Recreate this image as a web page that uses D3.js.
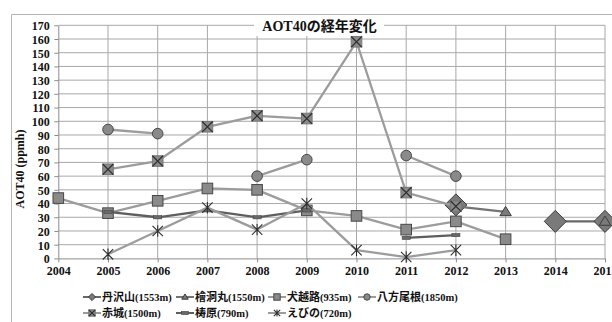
<!DOCTYPE html>
<html>
<head>
<meta charset="utf-8">
<script src="https://cdn.jsdelivr.net/npm/d3@7"></script>
<style>
  html, body { margin: 0; padding: 0; background: #fff; }
  svg { display: block; }
</style>
</head>
<body>
<svg id="chart" width="612" height="322"></svg>
<script>
// AOT40 yearly values (ppmh) per monitoring site; null = no measurement
const years = [2004, 2005, 2006, 2007, 2008, 2009, 2010, 2011, 2012, 2013, 2014, 2015];
const yTicks = [0, 10, 20, 30, 40, 50, 60, 70, 80, 90, 100, 110, 120, 130, 140, 150, 160, 170];
const chartTitle = "AOT40の経年変化";
const yTitle = "AOT40 (ppmh)";

const tanzawa  = [null, null, null, null, null, null, null, null, 39, null, 27, 27];
const hinokibo = [null, null, null, null, null, null, null, null, 38, 34, null, 27];
const inukoshi = [44, 33, 42, 51, 50, 35, 31, 21, 27, 14, null, null];
const happo    = [null, 94, 91, null, 60, 72, null, 75, 60, null, null, null];
const akagi    = [null, 65, 71, 96, 104, 102, 158, 48, 38, null, null, null];
const yusuhara = [null, 34, 30, 35, 30, 35, null, 15, 17, null, null, null];
const ebino    = [null, 3, 20, 37, 21, 40, 6, 1, 6, null, null, null];

const seriesNames = ["丹沢山", "檜洞丸", "犬越路", "八方尾根", "赤城", "梼原", "えびの"];
const seriesAlt   = ["(1553m)", "(1550m)", "(935m)", "(1850m)", "(1500m)", "(790m)", "(720m)"];
const seriesData  = [tanzawa, hinokibo, inukoshi, happo, akagi, yusuhara, ebino];
const seriesMark  = ["diamond", "triangle", "square", "circle", "xsquare", "dash", "star"];
const seriesLine  = ["#686868", "#747474", "#9c9c9c", "#9c9c9c", "#9c9c9c", "#5e5e5e", "#9c9c9c"];

const serif = "'Liberation Serif', 'DejaVu Serif', serif";
const gothic = "'Noto Sans CJK JP', 'Noto Sans', sans-serif";

const svg = d3.select("#chart");

const x = d3.scaleLinear().domain([2004, 2015]).range([58.3, 605]);
const y = d3.scaleLinear().domain([0, 170]).range([258.4, 25.3]);

// outer chart frame (continues past the right and bottom edges)
svg.append("path")
  .attr("d", "M11.5,330 V14.5 H620")
  .attr("fill", "none").attr("stroke", "#b4b4b4").attr("stroke-width", 1);

// gridlines
const grid = svg.append("g");
grid.selectAll("line.h").data(yTicks.slice(1)).join("line")
  .attr("class", "h")
  .attr("x1", x(2004)).attr("x2", x(2015))
  .attr("y1", d => y(d)).attr("y2", d => y(d))
  .attr("stroke", "#a8a8a8").attr("stroke-width", 1);
grid.selectAll("line.v").data(years.slice(1)).join("line")
  .attr("class", "v")
  .attr("x1", d => x(d)).attr("x2", d => x(d))
  .attr("y1", y(170)).attr("y2", y(0))
  .attr("stroke", "#a8a8a8").attr("stroke-width", 1);

// axes
const yAxis = d3.axisLeft(y).tickValues(yTicks).tickSize(4).tickSizeOuter(0);
const gy = svg.append("g").attr("transform", `translate(${x(2004)},0)`).call(yAxis);
gy.select(".domain").attr("stroke", "#8c8c8c");
gy.selectAll(".tick line").attr("stroke", "#8c8c8c");
gy.selectAll(".tick text")
  .attr("x", -8.5).attr("dy", "0.36em")
  .attr("font-family", serif).attr("font-weight", "bold").attr("font-size", 12).attr("fill", "#111");

const xAxis = d3.axisBottom(x).tickValues(years).tickFormat(d3.format("d")).tickSize(4).tickSizeOuter(0);
const gx = svg.append("g").attr("transform", `translate(0,${y(0)})`).call(xAxis);
gx.select(".domain").attr("stroke", "#8c8c8c");
gx.selectAll(".tick line").attr("stroke", "#8c8c8c");
gx.selectAll(".tick text")
  .attr("y", 8).attr("dy", "0.71em")
  .attr("font-family", serif).attr("font-weight", "bold").attr("font-size", 12).attr("fill", "#111");

// y axis title
svg.append("text")
  .attr("transform", "translate(24,169) rotate(-90)")
  .attr("text-anchor", "middle")
  .attr("font-family", serif).attr("font-weight", "bold").attr("font-size", 12).attr("fill", "#111")
  .text(yTitle);

// marker drawing
function drawMarker(g, type, s) {
  const fill = "#8a8a8a", stroke = "#474747";
  if (type === "diamond") {
    g.append("path").attr("d", `M0,${-s * 1.05} L${s * 1.05},0 L0,${s * 1.05} L${-s * 1.05},0 Z`)
      .attr("fill", "#7a7a7a").attr("stroke", "#3c3c3c").attr("stroke-width", 1);
  } else if (type === "triangle") {
    g.append("path").attr("d", `M0,${-s * 0.9} L${s * 0.95},${s * 0.65} L${-s * 0.95},${s * 0.65} Z`)
      .attr("fill", "#7a7a7a").attr("stroke", "#3c3c3c").attr("stroke-width", 1);
  } else if (type === "square") {
    g.append("rect").attr("x", -s).attr("y", -s).attr("width", 2 * s).attr("height", 2 * s)
      .attr("fill", fill).attr("stroke", stroke).attr("stroke-width", 1);
  } else if (type === "circle") {
    g.append("circle").attr("r", s).attr("fill", fill).attr("stroke", stroke).attr("stroke-width", 1);
  } else if (type === "xsquare") {
    g.append("rect").attr("x", -s).attr("y", -s).attr("width", 2 * s).attr("height", 2 * s)
      .attr("fill", fill).attr("stroke", "#777").attr("stroke-width", 1);
    g.append("path").attr("d", `M${-s},${-s} L${s},${s} M${s},${-s} L${-s},${s}`)
      .attr("stroke", "#2e2e2e").attr("stroke-width", 1.2);
  } else if (type === "dash") {
    g.append("rect").attr("x", -s * 0.9).attr("y", -1.6).attr("width", 1.8 * s).attr("height", 3.2)
      .attr("fill", "#6a6a6a").attr("stroke", "#444").attr("stroke-width", 0.6);
  } else if (type === "star") {
    g.append("path").attr("d", `M${-s},${-s} L${s},${s} M${s},${-s} L${-s},${s} M0,${-s * 1.1} L0,${s * 1.1}`)
      .attr("stroke", "#2e2e2e").attr("stroke-width", 1.1).attr("fill", "none");
  }
}
const markerSize = { diamond: 10.5, triangle: 6, square: 5.3, circle: 5.3, xsquare: 5.3, dash: 4.5, star: 5.2 };
const legendSize = { diamond: 3.4, triangle: 3.4, square: 3.2, circle: 3.2, xsquare: 3.2, dash: 3.8, star: 3.2 };

// series lines and markers
const line = d3.line()
  .defined(d => d.v != null)
  .x(d => x(d.year)).y(d => y(d.v));

seriesData.forEach((vals, i) => {
  const pts = years.map((yr, k) => ({ year: yr, v: vals[k] }));
  const g = svg.append("g");
  g.append("path").datum(pts)
    .attr("d", line)
    .attr("fill", "none").attr("stroke", seriesLine[i]).attr("stroke-width", 2.3)
    .attr("stroke-linejoin", "round");
  pts.filter(d => d.v != null).forEach(d => {
    const m = g.append("g").attr("transform", `translate(${x(d.year)},${y(d.v)})`);
    drawMarker(m, seriesMark[i], markerSize[seriesMark[i]]);
  });
});

// title with white backing over the grid
const titleG = svg.append("g");
titleG.append("rect").attr("x", 254).attr("y", 15).attr("width", 130).attr("height", 21).attr("fill", "#fff");
const tt = titleG.append("text").attr("x", 319.5).attr("y", 31)
  .attr("text-anchor", "middle").attr("font-weight", "bold").attr("font-size", 14).attr("fill", "#111");
tt.append("tspan").attr("font-family", serif).text(chartTitle.slice(0, 5));
tt.append("tspan").attr("font-family", gothic).text(chartTitle.slice(5));

// legend, two rows
const legendPos = [
  [83, 297], [176, 297], [268, 297], [358, 297],
  [83, 313], [176, 313], [268, 313]
];
seriesNames.forEach((name, i) => {
  const [lx, ly] = legendPos[i];
  const g = svg.append("g").attr("transform", `translate(${lx},${ly})`);
  g.append("line").attr("x1", 0).attr("x2", 18).attr("y1", 0).attr("y2", 0)
    .attr("stroke", seriesLine[i]).attr("stroke-width", 2);
  const m = g.append("g").attr("transform", "translate(9,0)");
  drawMarker(m, seriesMark[i], legendSize[seriesMark[i]]);
  const t = g.append("text").attr("x", 19).attr("y", 4)
    .attr("font-weight", "bold").attr("font-size", 11).attr("fill", "#111");
  t.append("tspan").attr("font-family", gothic).text(name);
  t.append("tspan").attr("font-family", serif).attr("font-size", 10.5).text(seriesAlt[i]);
});
</script>
</body>
</html>
